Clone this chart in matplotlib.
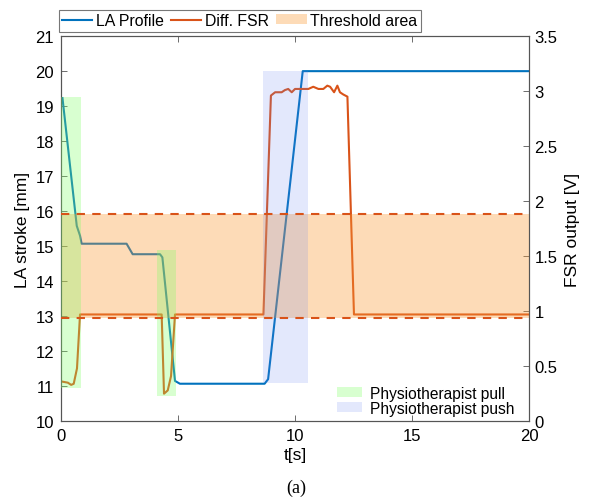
import matplotlib.pyplot as plt
import numpy as np
from matplotlib.patches import Rectangle, Patch
from matplotlib.lines import Line2D

plt.rcParams['font.family'] = ['Liberation Sans', 'DejaVu Sans']

# LA profile [mm]
t_la = [0.06, 0.67, 0.81, 0.88, 2.8, 3.06, 4.23, 4.33, 4.87, 5.08, 8.7, 8.85, 10.33, 20.0]
la = [19.23, 15.58, 15.3, 15.07, 15.07, 14.77, 14.77, 14.68, 11.15, 11.07, 11.07, 11.2, 20.0, 20.0]

# Diff. FSR [V]
t_fsr = [0.04, 0.29, 0.43, 0.54, 0.68, 0.81, 4.3, 4.4, 4.56, 4.7, 4.87, 8.65, 8.97,
         9.15, 9.43, 9.57, 9.71, 9.86, 10.0, 10.28, 10.57, 10.78, 11.0, 11.21, 11.38,
         11.5, 11.67, 11.81, 11.92, 12.06, 12.24, 12.52, 20.0]
fsr = [0.36, 0.35, 0.33, 0.34, 0.48, 0.97, 0.97, 0.25, 0.28, 0.41, 0.97, 0.97, 2.96,
       2.99, 2.99, 3.01, 3.02, 2.99, 3.02, 3.02, 3.02, 3.04, 3.02, 3.02, 3.05,
       3.04, 2.99, 3.05, 2.99, 2.97, 2.95, 0.97, 0.97]

# threshold [V]
thr_low, thr_high = 0.94, 1.88

# physiotherapist regions: (t0, t1, mm_low, mm_high)
pull_regions = [(0.0, 0.85, 10.95, 19.25), (4.1, 4.9, 10.73, 14.88)]
push_regions = [(8.62, 10.54, 11.1, 20.0)]

blue = '#0072BD'
orange = '#D95319'
thr_color = (0.98, 0.6, 0.2, 0.35)
pull_color = (0.5, 1.0, 0.4, 0.3)
push_color = (0.4, 0.5, 0.95, 0.18)

fig = plt.figure(figsize=(5.93, 5.02), dpi=100)
ax1 = fig.add_axes([0.103, 0.159, 0.789, 0.767])
ax2 = ax1.twinx()

ax1.plot(t_la, la, color=blue, lw=1.5)
ax1.set_xlim(0, 20)
ax1.set_ylim(10, 21)
ax1.set_xticks([0, 5, 10, 15, 20])
ax1.set_yticks(range(10, 22))
ax1.set_xlabel('t[s]', fontsize=12.5, labelpad=3)
ax1.set_ylabel('LA stroke [mm]', fontsize=12.5, labelpad=4)

ax2.plot(t_fsr, fsr, color=orange, lw=1.5, zorder=1)
ax2.set_ylim(0, 3.5)
ax2.set_yticks([0, 0.5, 1, 1.5, 2, 2.5, 3, 3.5])
ax2.set_yticklabels(['0', '0.5', '1', '1.5', '2', '2.5', '3', '3.5'])
ax2.set_ylabel('FSR output [V]', fontsize=12.5, labelpad=5)

# shaded areas on top of the lines
ax2.fill_between([0, 20], thr_low, thr_high, color=thr_color, lw=0, zorder=2)
for t0, t1, lo, hi in pull_regions:
    ax2.add_patch(Rectangle((t0, lo), t1 - t0, hi - lo, color=pull_color, lw=0,
                            transform=ax1.transData, zorder=3))
for t0, t1, lo, hi in push_regions:
    ax2.add_patch(Rectangle((t0, lo), t1 - t0, hi - lo, color=push_color, lw=0,
                            transform=ax1.transData, zorder=3))
ax2.axhline(thr_low, color=orange, ls=(0, (4, 3.5)), lw=1.5, zorder=4)
ax2.axhline(thr_high, color=orange, ls=(0, (4, 3.5)), lw=1.5, zorder=4)

for ax in (ax1, ax2):
    for s in ax.spines.values():
        s.set_color('#555555')
        s.set_linewidth(0.8)
    ax.tick_params(direction='in', labelsize=12, colors='#555555', labelcolor='black',
                   length=4, width=0.6)
ax1.tick_params(top=True, pad=5)
ax2.tick_params(pad=4)

h1 = [Line2D([], [], color=blue, lw=1.5), Line2D([], [], color=orange, lw=1.5),
      Patch(facecolor=thr_color, lw=0)]
leg1 = ax1.legend(h1, ['LA Profile', 'Diff. FSR', 'Threshold area'], loc='lower left',
                  bbox_to_anchor=(-0.005, 1.012), ncol=3, fontsize=11.4, frameon=True,
                  fancybox=False, edgecolor='#555555', handlelength=1.9, handleheight=0.6,
                  handletextpad=0.25, columnspacing=0.45, borderpad=0.22, borderaxespad=0)
leg1.get_frame().set_linewidth(0.8)

h2 = [Patch(facecolor=pull_color, lw=0), Patch(facecolor=push_color, lw=0)]
ax2.legend(h2, ['Physiotherapist pull', 'Physiotherapist push'], loc='lower right',
           bbox_to_anchor=(0.99, -0.01), fontsize=11.2, frameon=False, handlelength=1.6,
           handleheight=0.6, handletextpad=0.55, labelspacing=0.0, borderaxespad=0.2)

fig.text(0.5, 0.028, '(a)', ha='center', va='center', fontsize=13, family='Liberation Serif')

fig.savefig('out.png', dpi=100)
